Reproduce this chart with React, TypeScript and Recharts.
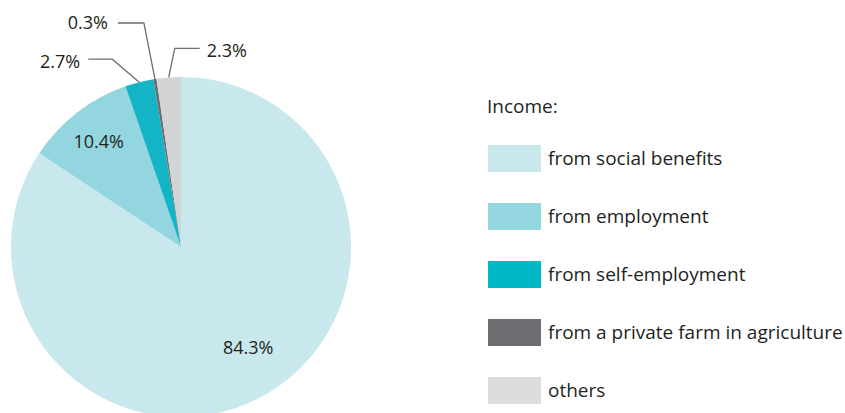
import React from 'react';
import { PieChart, Pie, Cell, Legend } from 'recharts';

const categories = [
  'from social benefits',
  'from employment',
  'from self-employment',
  'from a private farm in agriculture',
  'others',
];
const shares = [84.3, 10.4, 2.7, 0.3, 2.3];
const sliceColors = ['#c8e8ee', '#93d6df', '#12b4c6', '#6d6e72', '#d3d4d5'];
const legendColors = ['#c8e8ee', '#93d6df', '#00b8c8', '#6d6e72', '#dcdddf'];
const legendTitle = 'Income:';

const data = categories.map((name, i) => ({ name, value: shares[i] }));

const FONT = '"Open Sans", "Noto Sans", sans-serif';
const TEXT = '#231f20';
const LINE = '#6d6e72';
const RAD = Math.PI / 180;

// label placement styles per slice index
const labelStyle: Record<number, any> = {
  0: { kind: 'inside', r: 0.71, dx: 10, dy: -6 },
  1: { kind: 'inside', r: 0.79, dx: 0, dy: 0 },
  2: { kind: 'leader', ex: -27, ey: -23, h: -24, gap: 8, ty: 2 },
  3: { kind: 'leader', ex: -11, ey: -56, h: -26, gap: 10, ty: -1 },
  4: { kind: 'leader', ex: 6, ey: -29, h: 25, gap: 7, ty: 2 },
};

const renderLabel = (props: any) => {
  const { cx, cy, midAngle, outerRadius, index, value } = props;
  const st = labelStyle[index];
  const text = `${value.toFixed(1)}%`;
  const cos = Math.cos(-midAngle * RAD);
  const sin = Math.sin(-midAngle * RAD);
  if (st.kind === 'inside') {
    const r = outerRadius * st.r;
    return (
      <text
        key={`l${index}`}
        x={cx + r * cos + st.dx}
        y={cy + r * sin + st.dy}
        textAnchor="middle"
        dominantBaseline="central"
        fontFamily={FONT}
        fontSize={18}
        fill={TEXT}
      >
        {text}
      </text>
    );
  }
  const x0 = cx + outerRadius * cos;
  const y0 = cy + outerRadius * sin;
  const x1 = x0 + st.ex;
  const y1 = y0 + st.ey;
  const x2 = x1 + st.h;
  const left = st.h < 0;
  return (
    <g key={`l${index}`}>
      <polyline
        points={`${x0},${y0} ${x1},${y1} ${x2},${y1}`}
        fill="none"
        stroke={LINE}
        strokeWidth={1.3}
      />
      <text
        x={x2 + (left ? -st.gap : st.gap)}
        y={y1 + st.ty}
        textAnchor={left ? 'end' : 'start'}
        dominantBaseline="central"
        fontFamily={FONT}
        fontSize={18}
        fill={TEXT}
      >
        {text}
      </text>
    </g>
  );
};

const LegendContent = () => (
  <div style={{ fontFamily: FONT, color: TEXT, position: 'relative', width: 360, height: 320 }}>
    <div style={{ position: 'absolute', left: 0, top: 0, fontSize: 19, lineHeight: '20px', whiteSpace: 'nowrap' }}>
      {legendTitle}
    </div>
    {categories.map((c, i) => (
      <div
        key={c}
        style={{
          position: 'absolute',
          left: 1,
          top: 49 + i * 58,
          height: 27,
          display: 'flex',
          alignItems: 'center',
          whiteSpace: 'nowrap',
        }}
      >
        <div style={{ width: 53, height: 27, background: legendColors[i], marginRight: 7 }} />
        <span style={{ fontSize: 19, lineHeight: '27px' }}>{c}</span>
      </div>
    ))}
  </div>
);

export default function App() {
  return (
    <div style={{ position: 'absolute', left: 0, top: 0, width: 845, height: 413, background: '#fff' }}>
      <PieChart width={845} height={413} margin={{ top: 0, right: 0, bottom: 0, left: 0 }}>
        <Pie
          data={data}
          dataKey="value"
          nameKey="name"
          cx={181}
          cy={247}
          outerRadius={170}
          innerRadius={0}
          startAngle={90}
          endAngle={-270}
          stroke="none"
          label={renderLabel}
          labelLine={false}
          isAnimationActive={false}
        >
          {data.map((d, i) => (
            <Cell key={d.name} fill={sliceColors[i]} />
          ))}
        </Pie>
        <Legend
          content={<LegendContent />}
          wrapperStyle={{ position: 'absolute', left: 487, top: 96, width: 360, height: 320 }}
        />
      </PieChart>
    </div>
  );
}
